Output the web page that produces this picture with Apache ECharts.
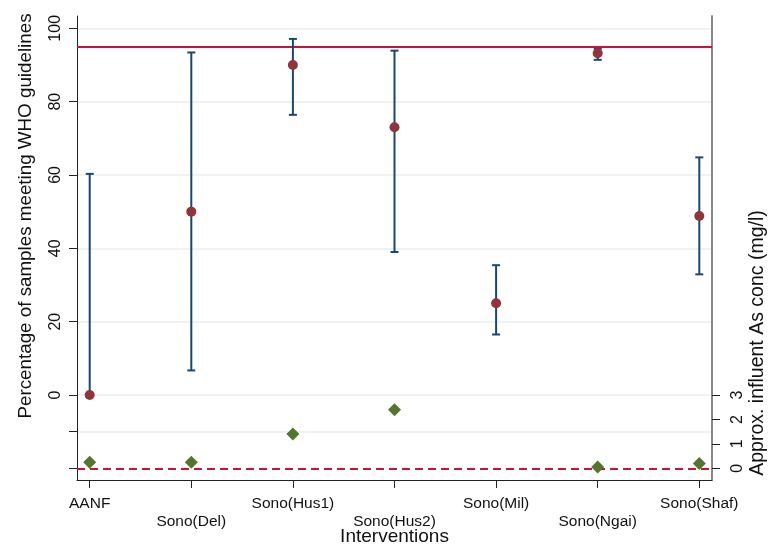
<!DOCTYPE html>
<html>
<head>
<meta charset="utf-8">
<script src="https://cdn.jsdelivr.net/npm/echarts@6/dist/echarts.min.js"></script>
<style>
  html, body { margin: 0; padding: 0; background: #fff; }
  #chart { width: 768px; height: 548px; }
</style>
</head>
<body>
<div id="chart"></div>
<script>
// data
const categories = ['AANF', 'Sono(Del)', 'Sono(Hus1)', 'Sono(Hus2)', 'Sono(Mil)', 'Sono(Ngai)', 'Sono(Shaf)']
const pctMet = [0, 50, 90, 73, 25, 93.2, 48.8]
const ciUpper = [60.3, 93.4, 97.1, 93.9, 35.4, 94.4, 64.8]
const ciLower = [0, 6.7, 76.4, 39, 16.5, 91.4, 32.9]
const asConc = [0.25, 0.25, 1.4, 2.4, null, 0.05, 0.2]
const whoLevel = 95
const leftTicks = [-20, -10, 0, 20, 40, 60, 80, 100]
const leftLabels = [0, 20, 40, 60, 80, 100]
const leftGrid = [-10, 0, 20, 40, 60, 80, 100]
const rightTicks = [0, 1, 2, 3]
const catIndex = categories.map((c, i) => i)

const navy = '#1a476f'
const maroon = '#90353b'
const green = '#55752f'
const crimson = '#c8143c'
const font = 'Liberation Sans, Helvetica, Arial, sans-serif'

const chart = echarts.init(document.getElementById('chart'))

const option = {
  animation: false,
  textStyle: { fontFamily: font },
  grid: { left: 77, right: 56, top: 16, bottom: 68 },
  xAxis: {
    type: 'value',
    min: -0.125,
    max: 6.125,
    splitLine: { show: false },
    axisLine: { onZero: false, lineStyle: { color: '#222', width: 1 } },
    axisTick: { customValues: catIndex, length: 8, lineStyle: { color: '#222' } },
    axisLabel: {
      customValues: catIndex,
      color: '#111',
      fontSize: 15.5,
      lineHeight: 17.5,
      margin: 15,
      formatter: v => (v % 2 === 1 ? '\n' : '') + categories[v]
    }
  },
  yAxis: [
    {
      type: 'value',
      min: -23.18,
      max: 103.35,
      splitLine: { show: false },
      axisLine: { show: true, onZero: false, lineStyle: { color: '#222', width: 1 } },
      axisTick: { customValues: leftTicks, length: 8, lineStyle: { color: '#222' } },
      axisLabel: { customValues: leftLabels, rotate: 90, fontSize: 16, color: '#111', margin: 13 }
    },
    {
      type: 'value',
      position: 'right',
      min: -0.477,
      max: 18.5,
      splitLine: { show: false },
      axisLine: { show: true, onZero: false, lineStyle: { color: '#888', width: 2 } },
      axisTick: { customValues: rightTicks, length: 8, lineStyle: { color: '#222' } },
      axisLabel: { customValues: rightTicks, rotate: 90, fontSize: 16, color: '#111', margin: 18 }
    }
  ],
  graphic: [
    {
      type: 'text', x: 394.5, y: 527,
      style: { text: 'Interventions', fontSize: 19, fontFamily: font, fill: '#111', align: 'center', verticalAlign: 'top' }
    },
    {
      type: 'text', x: 16, y: 216, rotation: Math.PI / 2,
      style: { text: 'Percentage of samples meeting WHO guidelines', fontSize: 18.8, fontFamily: font, fill: '#111', align: 'center', verticalAlign: 'top' }
    },
    {
      type: 'text', x: 748, y: 343, rotation: Math.PI / 2,
      style: { text: 'Approx. influent As conc (mg/l)', fontSize: 19.5, fontFamily: font, fill: '#111', align: 'center', verticalAlign: 'top' }
    }
  ],
  series: [
    {
      // light gridlines
      type: 'scatter',
      data: [],
      z: 0,
      silent: true,
      markLine: {
        silent: true,
        symbol: 'none',
        z: 0,
        label: { show: false },
        lineStyle: { color: '#e8eef1', width: 1.5, type: 'solid' },
        data: leftGrid.map(v => ({ yAxis: v }))
      }
    },
    {
      type: 'scatter',
      data: [],
      z: 1,
      silent: true,
      markLine: {
        silent: true,
        symbol: 'none',
        z: 1,
        label: { show: false },
        lineStyle: { color: crimson, width: 2, type: 'solid' },
        data: [{ yAxis: whoLevel }]
      }
    },
    {
      type: 'custom',
      z: 3,
      data: catIndex.map(i => [i, ciLower[i], ciUpper[i]]),
      encode: { x: 0, y: [1, 2] },
      renderItem: function (params, api) {
        const x = api.value(0)
        const lo = api.coord([x, api.value(1)])
        const hi = api.coord([x, api.value(2)])
        const hw = 4
        const style = { stroke: navy, lineWidth: 2 }
        return {
          type: 'group',
          children: [
            { type: 'line', shape: { x1: lo[0], y1: lo[1], x2: hi[0], y2: hi[1] }, style },
            { type: 'line', shape: { x1: lo[0] - hw, y1: lo[1], x2: lo[0] + hw, y2: lo[1] }, style },
            { type: 'line', shape: { x1: hi[0] - hw, y1: hi[1], x2: hi[0] + hw, y2: hi[1] }, style }
          ]
        }
      }
    },
    {
      type: 'scatter',
      z: 5,
      symbol: 'circle',
      symbolSize: 10,
      itemStyle: { color: maroon, opacity: 1 },
      data: catIndex.map(i => [i, pctMet[i]])
    },
    {
      type: 'scatter',
      yAxisIndex: 1,
      z: 5,
      symbol: 'diamond',
      symbolSize: [13, 13],
      itemStyle: { color: green, opacity: 1 },
      data: catIndex.filter(i => asConc[i] !== null).map(i => [i, asConc[i]]),
      markLine: {
        silent: true,
        symbol: 'none',
        label: { show: false },
        z: 2,
        lineStyle: { color: crimson, width: 2, type: [8, 5] },
        data: [{ yAxis: 0 }]
      }
    }
  ]
}

chart.setOption(option)
</script>
</body>
</html>
